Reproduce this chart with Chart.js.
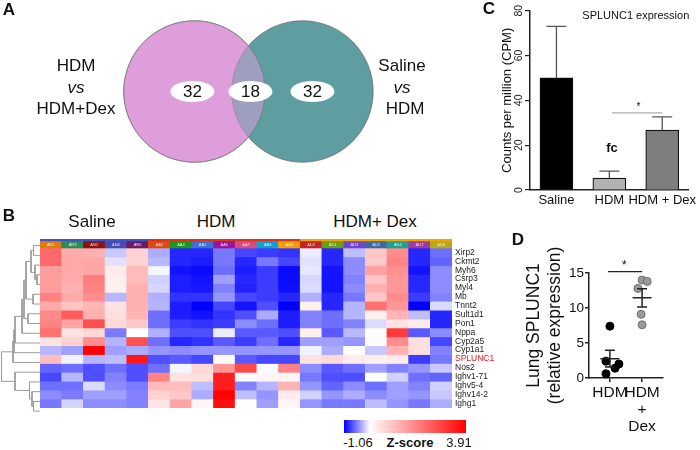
<!DOCTYPE html>
<html lang="en">
<head>
<meta charset="UTF-8">
<title>SPLUNC1 figure</title>
<script src="https://cdn.jsdelivr.net/npm/chart.js@4.4.1/dist/chart.umd.min.js"></script>
<style>
  html, body { margin: 0; padding: 0; background: #fff; }
  #fig { position: relative; width: 700px; height: 450px; overflow: hidden;
         font-family: Arial, "Liberation Sans", sans-serif; color: #111; }
  #fig canvas { position: absolute; }
  .t { position: absolute; transform: translate(-50%, -50%); white-space: nowrap; line-height: 1; }
  .panel { font-weight: bold; font-size: 17px; }
  .big { font-size: 17px; }
  #zbar { position: absolute; left: 344px; top: 420px; width: 122px; height: 13px;
          background: linear-gradient(to right, #0000ff 0%, #ffffff 21.3%, #ff0000 100%); }
</style>
</head>
<body>
<div id="fig">
  <canvas id="venn" width="480" height="183" style="left:0;top:0"></canvas>
  <canvas id="dendro" width="40" height="185" style="left:0;top:231px"></canvas>
  <canvas id="heat" width="460" height="185" style="left:40px;top:231px"></canvas>
  <canvas id="cpm" width="220" height="225" style="left:480px;top:0"></canvas>
  <canvas id="qpcr" width="220" height="225" style="left:480px;top:225px"></canvas>

  <!-- panel letters -->
  <div class="t panel" style="left:9px;top:9px">A</div>
  <div class="t panel" style="left:9px;top:215px">B</div>
  <div class="t panel" style="left:489px;top:8px">C</div>
  <div class="t panel" style="left:518px;top:239px">D</div>

  <!-- venn side labels -->
  <div class="t big" style="left:76px;top:65px">HDM</div>
  <div class="t big" style="left:76px;top:87px;font-style:italic">vs</div>
  <div class="t big" style="left:76px;top:108px">HDM+Dex</div>
  <div class="t big" style="left:402px;top:65px">Saline</div>
  <div class="t big" style="left:402px;top:87px;font-style:italic">vs</div>
  <div class="t big" style="left:405px;top:108px">HDM</div>

  <!-- heatmap group titles -->
  <div class="t big" style="left:92px;top:221px">Saline</div>
  <div class="t big" style="left:216px;top:221px">HDM</div>
  <div class="t big" style="left:375px;top:221px">HDM+ Dex</div>

  <!-- colour key -->
  <div id="zbar"></div>
  <div class="t" style="left:358px;top:442px;font-size:13px">-1.06</div>
  <div class="t" style="left:410px;top:442px;font-size:13px;font-weight:bold">Z-score</div>
  <div class="t" style="left:459px;top:442px;font-size:13px">3.91</div>
</div>

<script>
// ---------- data ----------

// A: venn counts (only left set, shared, only right set)
const vennCounts = [32, 18, 32];

// B: heatmap
const genes = ['Xirp2', 'Ckmt2', 'Myh6', 'Csrp3', 'Myl4', 'Mb', 'Tnnt2', 'Sult1d1', 'Pon1', 'Nppa',
               'Cyp2a5', 'Cyp1a1', 'SPLUNC1', 'Nos2', 'Ighv1-71', 'Ighv5-4', 'Ighv14-2', 'Ighg1'];
const samples = ['AN1', 'AN3', 'AN2', 'AN4', 'AN5',
                 'AA2', 'AA4', 'AA1', 'AA5', 'AA7', 'AA6', 'AA3',
                 'AD2', 'AD1', 'AD3', 'AD5', 'AD4', 'AD7', 'AD6'];
const sampleGroup = [0, 0, 0, 0, 0, 1, 1, 1, 1, 1, 1, 1, 2, 2, 2, 2, 2, 2, 2];
// z-score per sample (columns), listed in gene order
const zBySample = [
  [2.3, 2.3, 1.5, 1.5, 1.5, 1.9, 1.3, 1.8, 1.9, 2.2, 0.45, -0.3, 1.0, -0.65, -0.76, -0.6, -0.48, -0.56],
  [1.3, 1.3, 1.3, 1.3, 1.2, 1.3, 0.9, 2.5, 1.4, 0.45, 0.7, -0.4, -0.06, -0.6, -0.3, -0.6, -0.55, -0.18],
  [1.2, 1.35, 1.35, 2.0, 1.9, 1.75, 1.1, 1.2, 2.7, 0.6, 1.75, 3.9, -0.31, -0.73, -0.73, -0.15, -0.4, -0.48],
  [-0.23, -0.12, 0.3, 0.23, 0.23, -0.3, 0.45, 0.5, 0.6, -0.55, -0.31, -0.4, -0.27, -0.6, -0.52, -0.48, -0.4, -0.48],
  [0.7, 0.7, 1.05, 1.05, 1.2, 1.2, 1.2, 1.15, 0.85, 0, 2.7, -0.35, 3.55, -0.73, -0.73, -0.55, -0.52, -0.52],
  [-0.35, -0.29, -0.04, -0.19, -0.17, -0.33, -0.31, -0.6, -0.6, -0.33, -0.6, -0.44, -0.73, -0.6, 1.9, 1.05, 0.7, 0.4],
  [-0.9, -0.9, -0.98, -0.94, -0.94, -0.85, -0.94, -0.94, -0.81, -0.73, -0.9, -0.48, -0.69, -0.04, 0.45, 1.0, 0.85, 1.4],
  [-0.9, -0.94, -1.02, -0.98, -0.96, -0.85, -1.06, -0.98, -0.85, -0.73, -0.85, -0.44, -0.77, 0.6, 0.5, -0.27, -0.35, 0.15],
  [-0.56, -0.56, -0.6, -0.4, -0.52, -0.44, -0.77, -0.85, -0.81, -0.08, -0.69, -0.44, -0.02, 1.6, 3.45, 3.45, 3.9, 3.7],
  [-0.77, -0.9, -0.94, -0.9, -0.92, -0.77, -0.98, -0.73, -0.48, -0.69, -0.81, -0.44, -0.69, 2.8, -0.02, -0.52, -0.27, 0],
  [-0.81, -0.56, -0.81, -0.81, -0.81, -0.81, -0.73, -0.35, -0.6, -0.69, -0.6, -0.44, -0.77, -0.02, 0.15, -0.31, -0.44, -0.4],
  [-0.85, -0.77, -1.02, -1.02, -1.0, -0.9, -1.06, -0.94, -0.94, -0.73, -0.9, -0.44, -0.77, 1.9, 0.15, 1.15, 0.3, 0.15],
  [-0.08, -0.12, -0.1, -0.17, -0.15, -0.33, 0.23, -0.52, -0.52, 0.23, -0.4, -0.06, 0.45, -0.48, -0.56, -0.44, -0.19, -0.44],
  [-0.9, -0.9, -0.98, -0.98, -0.98, -0.9, -0.9, -0.6, -0.6, -0.69, -0.4, -0.35, 0.6, -0.69, -0.73, -0.65, -0.44, -0.56],
  [-0.27, -0.48, -0.48, -0.52, -0.48, -0.56, -0.31, -0.31, -0.52, -0.29, -0.44, 0, 0.3, -0.6, -0.73, -0.48, -0.35, -0.56],
  [0.9, 0.85, 1.45, 0.9, 1.2, 0.9, 2.2, 0.23, -0.15, 0, -0.02, -0.23, 0.23, -0.4, 0, -0.6, -0.48, -0.27],
  [1.75, 1.9, 1.7, 1.6, 1.6, 1.75, 1.6, 1.15, 0.45, 3.0, 1.75, 1.2, 0.3, -0.52, -0.19, -0.4, -0.4, -0.44],
  [-0.9, -0.9, -0.98, -0.9, -0.9, -0.81, -1.06, -0.27, 0.3, -0.69, 0.5, 0.5, -0.81, -0.44, -0.6, -0.52, -0.44, -0.56],
  [-0.6, -0.65, -0.48, -0.48, -0.48, -0.52, -0.15, -0.9, -0.9, -0.48, -0.77, -0.52, -0.56, -0.23, -0.65, -0.19, -0.23, -0.35]
];
const zMin = -1.06, zMax = 3.91;
// row clustering: [childA, childB, height]; ids >= 18 refer to earlier merges
const dendroMerges = [
  [0, 1, 6.5], [3, 4, 3], [2, 19, 5], [18, 20, 9], [5, 6, 7], [21, 22, 14],
  [7, 8, 12], [23, 24, 16], [25, 9, 18], [26, 10, 25], [27, 11, 26], [28, 12, 27],
  [16, 17, 6.5], [15, 30, 8], [14, 31, 10.5], [13, 32, 25], [29, 33, 38.5]
];

// C: RNA-seq counts
const cpmGroups = ['Saline', 'HDM', 'HDM + Dex'];
const cpmMean = [50, 5.3, 26.7];
const cpmErr = [23, 3.1, 5.9];

// D: qPCR
const qpcrGroups = ['HDM', ['HDM', '+', 'Dex']];
const qpcrHdm = [7.4, 2.4, 2.0, 1.4, 0.6];
const qpcrHdmDex = [14.0, 13.8, 12.8, 9.1, 7.6];
const jitterHdm = [0, -0.12, 0.28, 0.16, -0.12];
const jitterHdmDex = [0, 0.16, -0.13, -0.03, 0];

// ---------- styles ----------
const FONT = 'Arial, "Liberation Sans", sans-serif';
Chart.defaults.font.family = FONT;
Chart.defaults.color = '#111';
Chart.defaults.animation = false;
Chart.defaults.responsive = false;
Chart.defaults.devicePixelRatio = 1;
Chart.defaults.plugins.legend.display = false;
Chart.defaults.plugins.tooltip.enabled = false;

const groupColors = ['#3a55c8', '#e0301e', '#f2a400'];
const headerColors = ['#e07b10', '#2e8b57', '#8b1212', '#4a4ab0', '#6a1a6a',
                      '#dd4a14', '#1a9a1a', '#3f6fd0', '#9a149a', '#d84a80', '#14a0cc', '#f5a000',
                      '#c22424', '#6e9e10', '#7044d0', '#3c6aa0', '#20a090', '#a03c9e', '#b8a814'];

function zColor(z) {
  if (z < 0) {
    const t = Math.min(1, z / zMin);
    const c = Math.round(255 * (1 - t));
    return `rgb(${c},${c},255)`;
  }
  const t = Math.min(1, z / zMax);
  const c = Math.round(255 * (1 - t));
  return `rgb(255,${c},${c})`;
}

// ---------- A: venn ----------
const vennRadius = 10 * Math.sqrt(vennCounts[0] + vennCounts[1]);
const vennLabels = {
  id: 'vennLabels',
  afterDatasetsDraw(chart) {
    const { ctx, scales: { x, y } } = chart;
    const spots = [0, 0.5, 1];
    const nudge = [-2, 2, 10];
    ctx.save();
    vennCounts.forEach((n, i) => {
      const px = x.getPixelForValue(spots[i]) + nudge[i];
      const py = y.getPixelForValue(0);
      ctx.beginPath();
      ctx.ellipse(px, py, 22, 10.5, 0, 0, Math.PI * 2);
      ctx.fillStyle = '#fff';
      ctx.fill();
      ctx.fillStyle = '#111';
      ctx.font = '17px ' + FONT;
      ctx.textAlign = 'center';
      ctx.textBaseline = 'middle';
      ctx.fillText(String(n), px, py + 1);
    });
    ctx.restore();
  }
};

// chart.js paints the first dataset last, so the translucent copy goes first
new Chart(document.getElementById('venn'), {
  type: 'bubble',
  data: {
    datasets: [
      { data: [{ x: 0, y: 0, r: vennRadius }], backgroundColor: 'rgba(221,158,219,0.5)', borderColor: '#7a7a7a', borderWidth: 0.8, clip: false },
      { data: [{ x: 1, y: 0, r: vennRadius }], backgroundColor: '#5f9ea0', borderColor: '#6a6a6a', borderWidth: 0.8, clip: false },
      { data: [{ x: 0, y: 0, r: vennRadius }], backgroundColor: '#dd9edb', borderColor: '#8a8a8a', borderWidth: 0.8, clip: false }
    ]
  },
  options: {
    layout: { padding: 0, autoPadding: false },
    scales: {
      x: { type: 'linear', min: -1.8, max: 2.644, display: false },
      y: { type: 'linear', min: -1, max: 1, display: false }
    }
  },
  plugins: [vennLabels]
});

// ---------- B: heatmap ----------
const heatSets = [
  { data: samples.map(() => [-1, -0.8]), backgroundColor: sampleGroup.map(g => groupColors[g]) },
  { data: samples.map(() => [-0.8, 0]), backgroundColor: headerColors }
];
genes.forEach((g, i) => {
  heatSets.push({
    data: samples.map(() => [i, i + 1]),
    backgroundColor: samples.map((s, j) => zColor(zBySample[j][i]))
  });
});

const sampleIds = {
  id: 'sampleIds',
  afterDatasetsDraw(chart) {
    const { ctx, scales: { x, y } } = chart;
    ctx.save();
    ctx.font = '4px ' + FONT;
    ctx.fillStyle = 'rgba(255,255,255,0.85)';
    ctx.textAlign = 'center';
    ctx.textBaseline = 'middle';
    samples.forEach((s, j) => ctx.fillText(s, x.getPixelForValue(j), y.getPixelForValue(-0.4)));
    ctx.restore();
  }
};

new Chart(document.getElementById('heat'), {
  type: 'bar',
  data: { labels: samples, datasets: heatSets },
  options: {
    layout: { padding: 0 },
    datasets: { bar: { grouped: false, barPercentage: 1, categoryPercentage: 1, borderWidth: 0 } },
    scales: {
      x: { display: false },
      y: {
        reverse: true, min: -1, max: 18, position: 'right',
        grid: { display: false, drawTicks: false },
        border: { display: false },
        afterFit(s) { s.width = 48; },
        afterBuildTicks(s) { s.ticks = genes.map((g, i) => ({ value: i + 0.5 })); },
        ticks: {
          autoSkip: false, padding: 3, font: { size: 8.5 },
          color: ctx => genes[ctx.index] === 'SPLUNC1' ? '#e8141c' : '#222',
          callback: (v, i) => genes[i]
        }
      }
    }
  },
  plugins: [sampleIds]
});

// dendrogram
const nodePos = genes.map((g, i) => i + 0.5);
const nodeHeight = genes.map(() => 0);
const dendroSets = [];
dendroMerges.forEach(([a, b, h]) => {
  dendroSets.push({
    data: [
      { x: nodeHeight[a], y: nodePos[a] }, { x: h, y: nodePos[a] },
      { x: h, y: nodePos[b] }, { x: nodeHeight[b], y: nodePos[b] }
    ],
    showLine: true, borderColor: '#9b9b9b', borderWidth: 1, pointRadius: 0, clip: false
  });
  nodePos.push((nodePos[a] + nodePos[b]) / 2);
  nodeHeight.push(h);
});

new Chart(document.getElementById('dendro'), {
  type: 'scatter',
  data: { datasets: dendroSets },
  options: {
    layout: { padding: 0, autoPadding: false },
    scales: {
      x: { type: 'linear', min: 0, max: 40, reverse: true, display: false },
      y: { type: 'linear', min: -1, max: 18, reverse: true, display: false }
    }
  }
});

// ---------- C: CPM bars ----------
const cpmExtras = {
  id: 'cpmExtras',
  afterDatasetsDraw(chart) {
    const { ctx, scales: { x, y } } = chart;
    const meta = chart.getDatasetMeta(0);
    ctx.save();
    ctx.strokeStyle = '#555';
    ctx.lineWidth = 1.3;
    meta.data.forEach((bar, i) => {
      const top = y.getPixelForValue(cpmMean[i] + cpmErr[i]);
      ctx.beginPath();
      ctx.moveTo(bar.x, bar.y);
      ctx.lineTo(bar.x, top);
      ctx.moveTo(bar.x - 10, top);
      ctx.lineTo(bar.x + 10, top);
      ctx.stroke();
    });
    // significance bracket
    ctx.strokeStyle = '#999';
    ctx.lineWidth = 1;
    ctx.beginPath();
    ctx.moveTo(x.getPixelForValue(1.05), y.getPixelForValue(34.4));
    ctx.lineTo(x.getPixelForValue(2), y.getPixelForValue(34.4));
    ctx.stroke();
    ctx.fillStyle = '#111';
    ctx.textAlign = 'center';
    ctx.textBaseline = 'middle';
    ctx.font = '10px ' + FONT;
    ctx.fillText('*', x.getPixelForValue(1.55), y.getPixelForValue(36.8));
    ctx.font = 'bold 13px ' + FONT;
    ctx.fillText('fc', x.getPixelForValue(1.05), y.getPixelForValue(18.7));
    ctx.font = '11px ' + FONT;
    ctx.fillText('SPLUNC1 expression', x.getPixelForValue(1.5), y.getPixelForValue(77.5));
    ctx.restore();
  }
};

new Chart(document.getElementById('cpm'), {
  type: 'bar',
  data: {
    labels: cpmGroups,
    datasets: [{
      data: cpmMean,
      backgroundColor: ['#000000', '#b2b2b2', '#7e7e7e'],
      borderColor: '#111', borderWidth: 1.2, barThickness: 33
    }]
  },
  options: {
    layout: { padding: { top: 10.7, right: 6, left: 0, bottom: 0 } },
    scales: {
      x: {
        type: 'category', offset: true,
        afterFit(s) { s.height = 35; },
        ticks: { font: { size: 13 }, color: '#111', padding: 3, maxRotation: 0, autoSkip: false },
        grid: { display: false, drawTicks: false },
        border: { color: '#222', width: 1.5 }
      },
      y: {
        min: 0, max: 80,
        afterFit(s) { s.width = 50; },
        ticks: { stepSize: 20, minRotation: 90, maxRotation: 90, crossAlign: 'center', padding: 0, font: { size: 10.5 }, color: '#222' },
        grid: { drawOnChartArea: false, tickLength: 5, color: '#222', lineWidth: 1.2 },
        border: { color: '#222', width: 1.5 },
        title: { display: true, text: 'Counts per million (CPM)', font: { size: 13 }, color: '#111', padding: { top: 20 } }
      }
    }
  },
  plugins: [cpmExtras]
});

// ---------- D: qPCR dots ----------
function meanSem(vals) {
  const m = vals.reduce((a, b) => a + b, 0) / vals.length;
  const sd = Math.sqrt(vals.reduce((a, v) => a + (v - m) * (v - m), 0) / (vals.length - 1));
  return [m, sd / Math.sqrt(vals.length)];
}

const qpcrExtras = {
  id: 'qpcrExtras',
  afterDatasetsDraw(chart) {
    const { ctx, scales: { x, y } } = chart;
    ctx.save();
    ctx.strokeStyle = '#222';
    ctx.lineWidth = 1.5;
    [qpcrHdm, qpcrHdmDex].forEach((vals, i) => {
      const [m, sem] = meanSem(vals);
      const cx = x.getPixelForValue(i + 1);
      const ym = y.getPixelForValue(m), yt = y.getPixelForValue(m + sem), yb = y.getPixelForValue(m - sem);
      ctx.beginPath();
      ctx.moveTo(cx - 9.5, ym); ctx.lineTo(cx + 9.5, ym);
      ctx.moveTo(cx, yt); ctx.lineTo(cx, yb);
      ctx.moveTo(cx - 5, yt); ctx.lineTo(cx + 5, yt);
      ctx.moveTo(cx - 5, yb); ctx.lineTo(cx + 5, yb);
      ctx.stroke();
    });
    // significance bracket
    ctx.lineWidth = 1.2;
    ctx.beginPath();
    ctx.moveTo(x.getPixelForValue(0.94), y.getPixelForValue(15.2));
    ctx.lineTo(x.getPixelForValue(2), y.getPixelForValue(15.2));
    ctx.stroke();
    ctx.fillStyle = '#111';
    ctx.font = '12px ' + FONT;
    ctx.textAlign = 'center';
    ctx.textBaseline = 'middle';
    ctx.fillText('*', x.getPixelForValue(1.45), y.getPixelForValue(16.0));
    ctx.restore();
  }
};

new Chart(document.getElementById('qpcr'), {
  type: 'scatter',
  data: {
    datasets: [
      { data: qpcrHdm.map((v, i) => ({ x: 1 + jitterHdm[i], y: v })), backgroundColor: '#000', borderColor: '#000', pointRadius: 4, clip: false },
      { data: qpcrHdmDex.map((v, i) => ({ x: 2 + jitterHdmDex[i], y: v })), backgroundColor: '#9a9a9a', borderColor: '#6e6e6e', borderWidth: 1, pointRadius: 4, clip: false }
    ]
  },
  options: {
    layout: { padding: { top: 48, right: 37, left: 0, bottom: 0 } },
    scales: {
      x: {
        type: 'linear', min: 0.35, max: 2.65,
        afterBuildTicks(s) { s.ticks = [{ value: 1 }, { value: 2 }]; },
        afterFit(s) { s.height = 72; },
        ticks: { callback: (v, i) => qpcrGroups[i], font: { size: 15.5, lineHeight: 1.1 }, color: '#111', padding: 2, maxRotation: 0, autoSkip: false },
        grid: { drawOnChartArea: false, tickLength: 4, color: '#222', lineWidth: 1.5 },
        border: { color: '#222', width: 1.5 }
      },
      y: {
        min: 0, max: 15,
        afterFit(s) { s.width = 109; },
        ticks: { stepSize: 5, font: { size: 13.5 }, color: '#111', padding: 1 },
        grid: { drawOnChartArea: false, tickLength: 4, color: '#222', lineWidth: 1.5 },
        border: { color: '#222', width: 1.5 },
        title: { display: true, text: ['Lung SPLUNC1', '(relative expression)'], font: { size: 17.5 }, color: '#111', padding: { top: 44 } }
      }
    }
  },
  plugins: [qpcrExtras]
});
</script>
</body>
</html>
